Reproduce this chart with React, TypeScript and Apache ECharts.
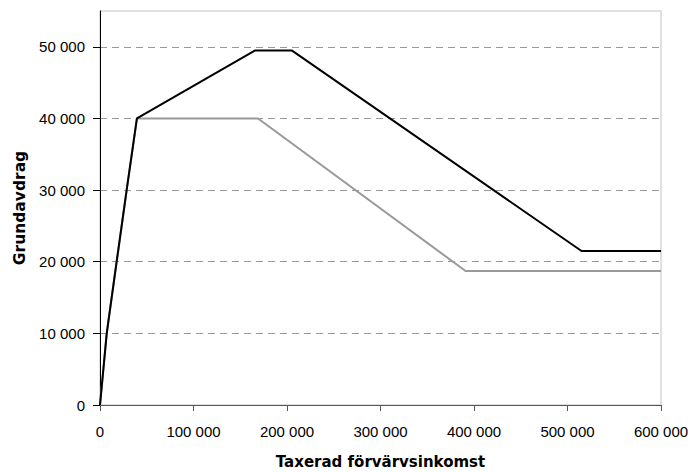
import React, { useEffect, useRef } from "react";
import * as echarts from "echarts";

// Taxerad förvärvsinkomst (kr) and Grundavdrag (kr)
const blackIncome = [0, 7200, 17800, 28500, 39500, 166000, 205000, 515000, 600000];
const blackDeduction = [0, 10000, 20000, 30000, 40000, 49500, 49500, 21500, 21500];
const greyIncome = [0, 7200, 17800, 28500, 39500, 169000, 391000, 600000];
const greyDeduction = [0, 10000, 20000, 30000, 40000, 40000, 18700, 18700];

const xTicks = [0, 100000, 200000, 300000, 400000, 500000, 600000];
const yTicks = [0, 10000, 20000, 30000, 40000, 50000];

const xName = "Taxerad förvärvsinkomst";
const yName = "Grundavdrag";

const fmt = (v: number) => String(v).replace(/\B(?=(\d{3})+(?!\d))/g, " ");

const tickFont = "'Liberation Sans Narrow', 'Liberation Sans', Arial, sans-serif";
const nameFont = "'DejaVu Sans', 'Liberation Sans', sans-serif";

export default function App() {
  const ref = useRef<HTMLDivElement>(null);
  useEffect(() => {
    if (!ref.current) return;
    const chart = echarts.init(ref.current, undefined, { renderer: "svg" });
    chart.setOption({
      animation: false,
      backgroundColor: "#ffffff",
      grid: {
        left: 100,
        right: 29,
        top: 11,
        bottom: 67,
        containLabel: false,
        outerBoundsMode: "none",
        show: true,
        borderColor: "#c0c0c0",
        borderWidth: 1,
        backgroundColor: "transparent",
      },
      xAxis: {
        type: "value",
        min: 0,
        max: 600000,
        interval: 100000,
        name: xName,
        nameLocation: "middle",
        nameGap: 49,
        nameTextStyle: { fontFamily: nameFont, fontWeight: "bold", fontSize: 15, color: "#000", lineHeight: 16 },
        axisLine: { show: true, onZero: false, lineStyle: { color: "#555555", width: 1 } },
        axisTick: { show: true, length: 6, lineStyle: { color: "#555555" }, customValues: xTicks },
        axisLabel: {
          customValues: xTicks,
          formatter: (v: number) => fmt(v),
          fontFamily: tickFont,
          fontSize: 15,
          color: "#000",
          margin: 19,
        },
        splitLine: { show: false },
      },
      yAxis: {
        type: "value",
        min: 0,
        max: 55000,
        interval: 10000,
        name: yName,
        nameLocation: "middle",
        nameGap: 72,
        nameRotate: 90,
        nameTextStyle: { fontFamily: nameFont, fontWeight: "bold", fontSize: 15.5, color: "#000" },
        axisLine: { show: true, onZero: false, lineStyle: { color: "#000000", width: 1 } },
        axisTick: { show: true, length: 7, lineStyle: { color: "#000000" }, customValues: yTicks },
        axisLabel: {
          customValues: yTicks,
          formatter: (v: number) => fmt(v),
          fontFamily: tickFont,
          fontSize: 15,
          color: "#000",
          margin: 15,
        },
        splitLine: {
          show: true,
          lineStyle: { color: "#999999", type: [7, 5], width: 1 },
        },
      },
      series: [
        {
          type: "line",
          data: greyIncome.map((x, i) => [x, greyDeduction[i]]),
          showSymbol: false,
          symbol: "none",
          lineStyle: { color: "#999999", width: 2 },
          z: 2,
        },
        {
          type: "line",
          data: blackIncome.map((x, i) => [x, blackDeduction[i]]),
          showSymbol: false,
          symbol: "none",
          lineStyle: { color: "#000000", width: 2 },
          z: 3,
        },
      ],
    });
    return () => chart.dispose();
  }, []);
  return (
    <div
      ref={ref}
      style={{ position: "absolute", left: 0, top: 0, width: 690, height: 472 }}
    />
  );
}
